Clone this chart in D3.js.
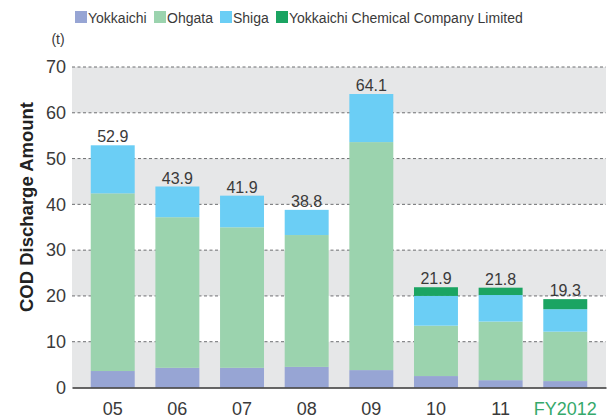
<!DOCTYPE html>
<html>
<head>
<meta charset="utf-8">
<script src="https://cdn.jsdelivr.net/npm/d3@7"></script>
<style>
  html, body { margin: 0; padding: 0; background: #fff; }
  svg { display: block; font-family: "Liberation Sans", Arial, sans-serif; }
</style>
</head>
<body>
<svg id="chart" width="616" height="419"></svg>
<script>
// fiscal years
const years = ['05', '06', '07', '08', '09', '10', '11', 'FY2012'];
const seriesNames = ['Yokkaichi', 'Ohgata', 'Shiga', 'Yokkaichi Chemical Company Limited'];
const seriesColors = ['#97a5d4', '#9bd3ae', '#6bcef5', '#1ba462'];

// tonnes
const yokkaichi = [3.6, 4.3, 4.3, 4.5, 3.8, 2.5, 1.6, 1.4];
const ohgata    = [38.8, 32.9, 30.7, 28.8, 49.8, 11.0, 12.8, 10.8];
const shiga     = [10.5, 6.7, 6.9, 5.5, 10.5, 6.5, 5.8, 4.9];
const ycc       = [0, 0, 0, 0, 0, 1.9, 1.6, 2.2];
const totals    = ['52.9', '43.9', '41.9', '38.8', '64.1', '21.9', '21.8', '19.3'];
const yTicks    = [0, 10, 20, 30, 40, 50, 60, 70];

const rows = years.map((yr, i) => ({
  year: yr,
  Yokkaichi: yokkaichi[i],
  Ohgata: ohgata[i],
  Shiga: shiga[i],
  'Yokkaichi Chemical Company Limited': ycc[i],
  total: totals[i]
}));

const svg = d3.select('#chart');
const plotL = 72, plotR = 606, plotT = 67, plotB = 387.5;
const textColor = '#3a3a3a';

const x = d3.scaleBand().domain(years).range([plotL, plotR]).paddingInner(0.32).paddingOuter(0.29);
const y = d3.scaleLinear().domain([0, 70]).range([plotB, plotT]);

// grey bands: 0-10, 20-30, 40-50, 60-70
const bands = [0, 20, 40, 60];
svg.append('g').selectAll('rect')
  .data(bands)
  .join('rect')
  .attr('x', plotL)
  .attr('width', plotR - plotL)
  .attr('y', d => y(d + 10))
  .attr('height', d => y(d) - y(d + 10))
  .attr('fill', '#e6e7e8');

// dashed grid
svg.append('g').selectAll('line')
  .data(yTicks.filter(d => d > 0))
  .join('line')
  .attr('x1', plotL).attr('x2', plotR)
  .attr('y1', d => y(d)).attr('y2', d => y(d))
  .attr('stroke', '#6d6e71')
  .attr('stroke-width', 1)
  .attr('stroke-dasharray', '3,2.5');

// y axis labels
const yAxis = d3.axisLeft(y).tickValues(yTicks).tickSize(0).tickPadding(6);
const yg = svg.append('g').attr('transform', `translate(${plotL},0)`).call(yAxis);
yg.select('.domain').remove();
yg.selectAll('text')
  .attr('font-size', 18)
  .attr('fill', textColor)
  .attr('font-family', '"Liberation Sans", Arial, sans-serif');

// stacked bars
const stack = d3.stack().keys(seriesNames);
const layers = stack(rows);
svg.append('g').selectAll('g')
  .data(layers)
  .join('g')
  .attr('fill', (d, i) => seriesColors[i])
  .selectAll('rect')
  .data(d => d)
  .join('rect')
  .attr('x', d => x(d.data.year))
  .attr('width', x.bandwidth())
  .attr('y', d => y(d[1]))
  .attr('height', d => y(d[0]) - y(d[1]));

// total labels
svg.append('g').selectAll('text')
  .data(rows)
  .join('text')
  .attr('x', d => x(d.year) + x.bandwidth() / 2)
  .attr('y', d => y(+d.total) - 3)
  .attr('text-anchor', 'middle')
  .attr('font-size', 16)
  .attr('fill', textColor)
  .text(d => d.total);

// x axis
const xAxis = d3.axisBottom(x).tickSize(0).tickPadding(15);
const xg = svg.append('g').attr('transform', `translate(0,${plotB})`).call(xAxis);
xg.select('.domain').attr('stroke', '#333').attr('stroke-width', 1.5);
xg.selectAll('text')
  .attr('font-size', 18)
  .attr('font-family', '"Liberation Sans", Arial, sans-serif')
  .attr('fill', d => d === 'FY2012' ? '#35a96b' : textColor);

// unit + axis title
svg.append('text')
  .attr('x', 58).attr('y', 44)
  .attr('text-anchor', 'middle')
  .attr('font-size', 14)
  .attr('fill', textColor)
  .text('(t)');

svg.append('text')
  .attr('transform', `translate(33,207) rotate(-90)`)
  .attr('text-anchor', 'middle')
  .attr('font-size', 18.5)
  .attr('font-weight', 'bold')
  .attr('fill', '#222')
  .text('COD Discharge Amount');

// legend
const legendX = [75, 154, 220, 276];
const legend = svg.append('g').selectAll('g')
  .data(seriesNames)
  .join('g')
  .attr('transform', (d, i) => `translate(${legendX[i]},11)`);
legend.append('rect')
  .attr('width', 12).attr('height', 12)
  .attr('fill', (d, i) => seriesColors[i]);
legend.append('text')
  .attr('x', 13).attr('y', 11.5)
  .attr('font-size', 14)
  .attr('fill', textColor)
  .text(d => d);
</script>
</body>
</html>
